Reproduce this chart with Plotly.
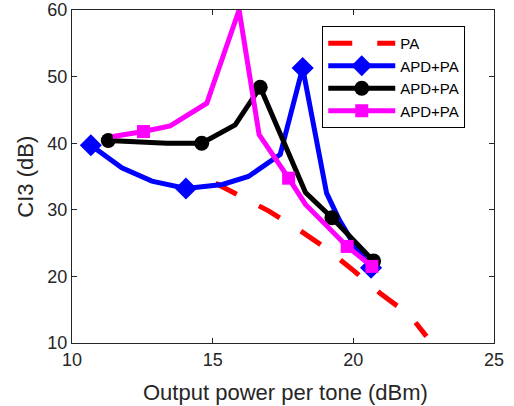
import plotly.graph_objects as go

# ---- data ----
pa_x = [15.1, 16.0, 17.0, 18.0, 19.0, 20.0, 21.0, 22.0, 22.6]
pa_y = [34.0, 32.0, 29.8, 27.2, 24.3, 20.9, 17.3, 14.2, 11.0]

blue_x = [10.67, 11.77, 12.84, 14.05, 15.35, 16.27, 17.4, 18.2, 19.05, 19.5, 20.05, 20.63]
blue_y = [39.7, 36.3, 34.3, 33.2, 33.8, 35.0, 38.3, 51.3, 32.5, 28.5, 24.6, 21.3]
blue_mk = [0, 3, 7, 11]

black_x = [11.29, 13.37, 14.61, 15.8, 16.69, 18.3, 19.24, 20.72]
black_y = [40.4, 40.0, 40.0, 42.75, 48.4, 32.6, 28.8, 22.3]
black_mk = [0, 2, 4, 6, 7]

mag_x = [11.45, 12.54, 13.49, 14.79, 15.94, 16.65, 17.7, 18.3, 19.78, 20.66]
mag_y = [41.0, 41.75, 42.6, 46.0, 60.0, 41.3, 34.75, 30.8, 24.5, 21.5]
mag_mk = [1, 6, 8, 9]

x_ticks = [10, 15, 20, 25]
y_ticks = [10, 20, 30, 40, 50, 60]

x_title = "Output power per tone (dBm)"
y_title = "CI3 (dB)"

FONT = "Liberation Sans, Arial, Helvetica, sans-serif"
AX = "#262626"

fig = go.Figure()

fig.add_trace(go.Scatter(x=pa_x, y=pa_y, mode="lines", name="PA",
                         line=dict(color="#ff0000", width=5, dash="24px,25px")))


def add_series(xs, ys, mk, color, symbol, size, name):
    fig.add_trace(go.Scatter(x=xs, y=ys, mode="lines", showlegend=False,
                             line=dict(color=color, width=5), hoverinfo="skip"))
    mx, my = [], []
    for i in mk:
        mx += [xs[i], None]
        my += [ys[i], None]
    fig.add_trace(go.Scatter(x=mx, y=my, mode="lines+markers", name=name,
                             connectgaps=False,
                             line=dict(color=color, width=5),
                             marker=dict(color=color, symbol=symbol, size=size,
                                         line=dict(width=0))))


add_series(blue_x, blue_y, blue_mk, "#0000ff", "diamond", 17, "APD+PA")
add_series(black_x, black_y, black_mk, "#000000", "circle", 15, "APD+PA")
add_series(mag_x, mag_y, mag_mk, "#ff00ff", "square", 13, "APD+PA")

axis_common = dict(showline=True, linecolor=AX, linewidth=1.3, mirror="ticks",
                   ticks="inside", ticklen=5, tickwidth=1.3, tickcolor=AX,
                   showgrid=False, zeroline=False,
                   tickfont=dict(family=FONT, size=18, color=AX))

fig.update_xaxes(range=[10, 25], tickvals=x_ticks, **axis_common)
fig.update_yaxes(range=[10, 60], tickvals=y_ticks, **axis_common)

fig.add_annotation(text=x_title, xref="paper", yref="paper", x=0.505, y=-0.150,
                   xanchor="center", yanchor="middle", showarrow=False,
                   font=dict(family=FONT, size=22, color=AX))
fig.add_annotation(text=y_title, xref="paper", yref="paper", x=-0.111, y=0.5,
                   xanchor="center", yanchor="middle", showarrow=False, textangle=-90,
                   font=dict(family=FONT, size=22, color=AX))

fig.update_layout(
    width=514, height=406,
    margin=dict(l=72, r=20, t=10, b=63, autoexpand=False),
    paper_bgcolor="white", plot_bgcolor="white",
    font=dict(family=FONT, color=AX),
    legend=dict(x=0.593, y=0.952, xanchor="left", yanchor="top",
                bgcolor="white", bordercolor="#000000", borderwidth=1,
                font=dict(family=FONT, size=15, color="#000000"),
                itemwidth=67, tracegroupgap=0),
    showlegend=True,
)

# remove the default 8px page margin so the figure fills the window exactly
fig.write_html("out.html", config={"displayModeBar": False},
               post_script="document.body.style.margin='0';document.body.style.overflow='hidden';")
